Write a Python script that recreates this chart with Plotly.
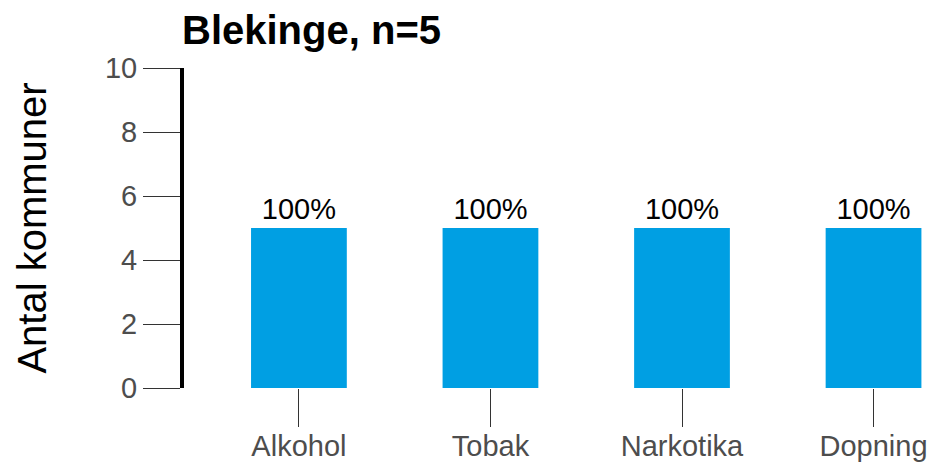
import plotly.graph_objects as go

# data
categories = ["Alkohol", "Tobak", "Narkotika", "Dopning"]
antal = [5, 5, 5, 5]
andel = ["100%", "100%", "100%", "100%"]
y_ticks = [0, 2, 4, 6, 8, 10]

# the page puts the figure 8px in from the top-left corner, so margins are shifted by 8
fig = go.Figure()
fig.add_trace(go.Bar(
    x=categories,
    y=antal,
    text=andel,
    textposition="outside",
    cliponaxis=False,
    textfont=dict(family="Liberation Sans, Arial", size=29, color="black"),
    marker=dict(color="#009FE3", line=dict(width=0)),
    width=0.5,
    hoverinfo="skip",
))

fig.update_layout(
    width=936,
    height=466,
    paper_bgcolor="white",
    plot_bgcolor="white",
    showlegend=False,
    margin=dict(l=176, r=13, t=60, b=86),
    font=dict(family="Liberation Sans, Arial", size=29, color="#4d4d4d"),
    title=dict(
        text="<b>Blekinge, n=5</b>",
        font=dict(size=40, color="black"),
        xref="container", x=174 / 936, xanchor="left",
        yref="container", y=1 - 22 / 466, yanchor="middle",
    ),
)

fig.update_xaxes(
    type="category",
    range=[-0.6, 3.3],
    automargin=False,
    showline=False,
    showgrid=False,
    zeroline=False,
    ticks="outside",
    ticklen=38,
    tickwidth=1.3,
    tickcolor="#333333",
    tickfont=dict(size=29, color="#4d4d4d"),
    ticklabelstandoff=-6,
)

fig.update_yaxes(
    range=[0, 10],
    tickvals=y_ticks,
    automargin=False,
    showline=True,
    linewidth=4,
    linecolor="black",
    showgrid=False,
    zeroline=False,
    ticks="outside",
    ticklen=37,
    tickwidth=1.3,
    tickcolor="#333333",
    tickfont=dict(size=29, color="#4d4d4d"),
    ticklabelstandoff=0,
    title=dict(text="Antal kommuner", font=dict(size=40, color="black"), standoff=47),
)

fig.write_html("out.html")
